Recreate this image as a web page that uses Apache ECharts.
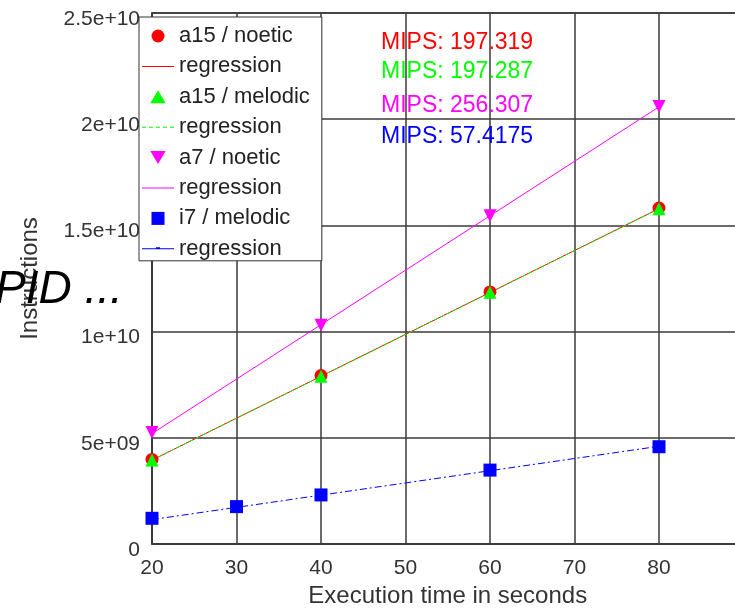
<!DOCTYPE html>
<html>
<head>
<meta charset="utf-8">
<script src="https://cdn.jsdelivr.net/npm/echarts@6/dist/echarts.min.js"></script>
<style>
html,body{margin:0;padding:0;background:#fff;}
#chart{width:735px;height:608px;}
</style>
</head>
<body>
<div id="chart"></div>
<script>
// ---- data ----
const xTicks = [20, 30, 40, 50, 60, 70, 80];
const yTickLabels = ['0', '5e+09', '1e+10', '1.5e+10', '2e+10', '2.5e+10'];

const a15NoeticX = [20, 40, 60, 80];
const a15NoeticY = [3.98e9, 7.93e9, 11.87e9, 15.82e9];
const a15NoeticRegX = [20, 80];
const a15NoeticRegY = [3.95e9, 15.79e9];

const a15MelodicX = [20, 40, 60, 80];
const a15MelodicY = [3.96e9, 7.9e9, 11.85e9, 15.78e9];
const a15MelodicRegX = [20, 80];
const a15MelodicRegY = [3.95e9, 15.78e9];

const a7NoeticX = [20, 40, 60, 80];
const a7NoeticY = [5.25e9, 10.3e9, 15.45e9, 20.6e9];
const a7NoeticRegX = [20, 80];
const a7NoeticRegY = [5.2e9, 20.58e9];

const i7MelodicX = [20, 30, 40, 60, 80];
const i7MelodicY = [1.21e9, 1.76e9, 2.31e9, 3.48e9, 4.58e9];
const i7MelodicRegX = [20, 80];
const i7MelodicRegY = [1.15e9, 4.6e9];

const mipsLabels = ['MIPS: 197.319', 'MIPS: 197.287', 'MIPS: 256.307', 'MIPS: 57.4175'];
const seriesNames = ['a15 / noetic', 'regression', 'a15 / melodic', 'regression ', 'a7 / noetic', 'regression  ', 'i7 / melodic', 'regression   '];

const colors = ['#ff0000', '#00ff00', '#ff00ff', '#0000ff'];
const FONT = '"Liberation Sans", Arial, sans-serif';

function pairs(xs, ys) { return xs.map((x, i) => [x, ys[i]]); }

const invTri = 'path://M0,0L20,0L10,17Z';
const upTri = 'path://M10,0L20,17L0,17Z';
const square = 'path://M0,0h10v10h-10z';
// legend line icons: bounding box 32x13 with a 1px line in the middle
const BOX = 'M0,0h0.01v0.01h-0.01z M31.99,12.99h0.01v0.01h-0.01z ';
const solidIcon = 'path://' + BOX + 'M0,6h32v1h-32z';
let dashed = BOX;
for (let x = 0; x < 32; x += 7) dashed += 'M' + x + ',6h' + Math.min(4, 32 - x) + 'v1h-' + Math.min(4, 32 - x) + 'z ';
const dashedIcon = 'path://' + dashed;
const bumpIcon = 'path://' + BOX + 'M0,6h32v1h-32z M14,5h4v1h-4z';

const legendIcons = ['circle', solidIcon, upTri, dashedIcon, invTri, solidIcon, square, bumpIcon];

const chart = echarts.init(document.getElementById('chart'), null, {renderer: 'canvas'});

const option = {
  animation: false,
  backgroundColor: '#fff',
  textStyle: {fontFamily: FONT},
  title: {
    text: 'PID ...',
    left: -5,
    top: 267,
    padding: 0,
    textStyle: {fontFamily: FONT, fontSize: 46, fontStyle: 'italic', fontWeight: 'normal', color: '#000'}
  },
  grid: {
    left: 152, top: 13, width: 591.5, height: 531,
    outerBoundsMode: 'none',
    containLabel: false,
    show: true, borderColor: '#3a3a3a', borderWidth: 1.5, backgroundColor: 'transparent'
  },
  legend: {
    orient: 'vertical',
    left: 139, top: 17,
    padding: [8, 12, 1, 3],
    backgroundColor: '#fff',
    borderColor: '#333', borderWidth: 1,
    itemWidth: 32, itemHeight: 13,
    itemGap: 8.4,
    symbolKeepAspect: true,
    selectedMode: false,
    itemStyle: {opacity: 1},
    textStyle: {fontFamily: FONT, fontSize: 22, color: '#222', lineHeight: 22},
    data: seriesNames.map((n, i) => ({name: n, icon: legendIcons[i]}))
  },
  xAxis: {
    type: 'value', min: 20, max: 90, interval: 10,
    name: 'Execution time in seconds', nameLocation: 'middle', nameGap: 39,
    nameTextStyle: {fontFamily: FONT, fontSize: 24, color: '#333'},
    axisLine: {show: true, lineStyle: {color: '#3a3a3a', width: 1.5}},
    axisTick: {show: false},
    axisLabel: {fontFamily: FONT, fontSize: 21, color: '#333', margin: 14,
      formatter: v => xTicks.indexOf(v) >= 0 ? String(v) : ''},
    splitLine: {show: true, lineStyle: {color: '#3a3a3a', width: 1.5}}
  },
  yAxis: {
    type: 'value', min: 0, max: 2.5e10, interval: 5e9,
    name: 'Instructions', nameLocation: 'middle', nameGap: 110,
    nameTextStyle: {fontFamily: FONT, fontSize: 24, color: '#333'},
    axisLine: {show: true, lineStyle: {color: '#3a3a3a', width: 1.5}},
    axisTick: {show: false},
    axisLabel: {fontFamily: FONT, fontSize: 21, color: '#333', margin: 12,
      verticalAlign: 'top', lineHeight: 12,
      formatter: v => yTickLabels[Math.round(v / 5e9)]},
    splitLine: {show: true, lineStyle: {color: '#3a3a3a', width: 1.5}}
  },
  graphic: mipsLabels.map((t, i) => ({
    type: 'text', left: 381, top: [31, 60, 94, 125][i], z: 10,
    style: {text: t, fill: colors[i], font: '23px ' + FONT}
  })),
  series: [
    {name: seriesNames[0], type: 'scatter', data: pairs(a15NoeticX, a15NoeticY), symbol: 'circle', symbolSize: 13, itemStyle: {color: colors[0], opacity: 1}, z: 3},
    {name: seriesNames[1], type: 'line', data: pairs(a15NoeticRegX, a15NoeticRegY), symbol: 'none', lineStyle: {color: colors[0], width: 1, type: 'solid'}, itemStyle: {color: colors[0]}, z: 2},
    {name: seriesNames[2], type: 'scatter', data: pairs(a15MelodicX, a15MelodicY), symbol: upTri, symbolSize: 13, itemStyle: {color: colors[1], opacity: 1}, z: 4},
    {name: seriesNames[3], type: 'line', data: pairs(a15MelodicRegX, a15MelodicRegY), symbol: 'none', lineStyle: {color: colors[1], width: 1, type: [4, 3]}, itemStyle: {color: colors[1]}, z: 2},
    {name: seriesNames[4], type: 'scatter', data: pairs(a7NoeticX, a7NoeticY), symbol: invTri, symbolSize: 13, itemStyle: {color: colors[2], opacity: 1}, z: 3},
    {name: seriesNames[5], type: 'line', data: pairs(a7NoeticRegX, a7NoeticRegY), symbol: 'none', lineStyle: {color: colors[2], width: 1, type: 'solid'}, itemStyle: {color: colors[2]}, z: 2},
    {name: seriesNames[6], type: 'scatter', data: pairs(i7MelodicX, i7MelodicY), symbol: 'rect', symbolSize: 13, itemStyle: {color: colors[3], opacity: 1}, z: 3},
    {name: seriesNames[7], type: 'line', data: pairs(i7MelodicRegX, i7MelodicRegY), symbol: 'none', lineStyle: {color: colors[3], width: 1, type: [7, 3, 2, 3]}, itemStyle: {color: colors[3]}, z: 2}
  ]
};
chart.setOption(option);
</script>
</body>
</html>
